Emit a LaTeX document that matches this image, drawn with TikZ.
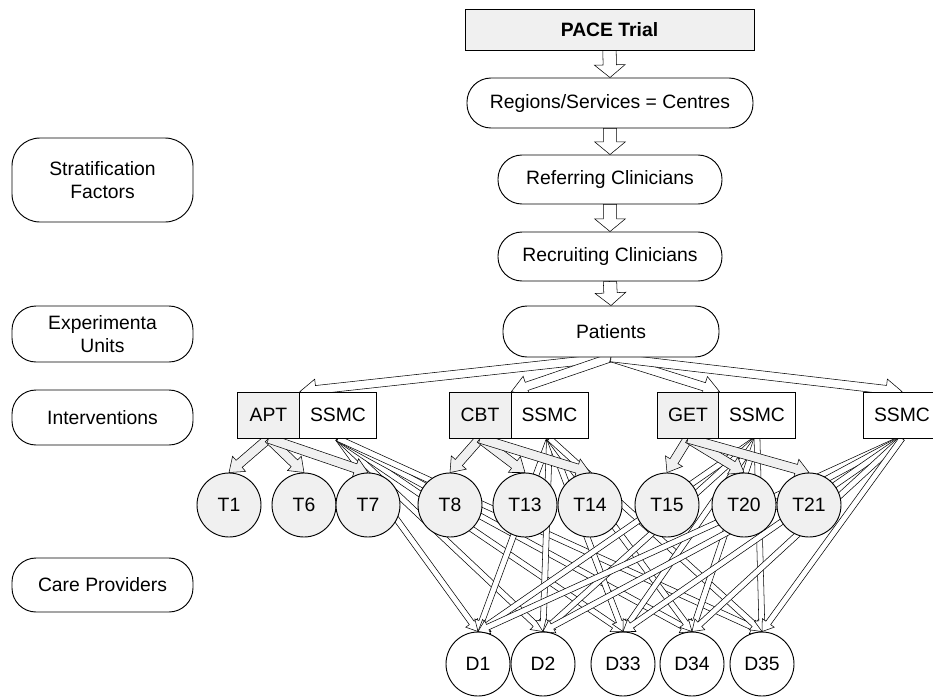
\documentclass[tikz,border=0pt]{standalone}
\usepackage{fontspec}
\setmainfont{Liberation Sans}
\usetikzlibrary{calc,backgrounds}
\definecolor{lg}{HTML}{F0F0F0}
% hollow block arrow: style, from, to, half shaft, half head, head length
\newcommand\barr[6]{%
  \coordinate (bh) at ($(#3)!#6!(#2)$);
  \draw[#1] ($(#2)!#4!90:(#3)$) -- ($(bh)!#4!90:(#3)$) -- ($(bh)!#5!90:(#3)$) -- (#3)
    -- ($(bh)!#5!-90:(#3)$) -- ($(bh)!#4!-90:(#3)$) -- ($(#2)!#4!-90:(#3)$) -- cycle;}
\begin{document}
\begin{tikzpicture}[x=0.75pt,y=-0.75pt,line width=0.7pt,
  font=\fontsize{14.5}{17.5}\selectfont,
  box/.style={draw, inner sep=0pt, align=center, fill=white},
  rbox/.style={box, rounded corners=18pt},
  tbox/.style={box, fill=lg, minimum width=46.5pt, minimum height=34.5pt},
  sbox/.style={box, minimum width=57.75pt, minimum height=34.5pt},
  tcirc/.style={circle, draw, fill=lg, minimum size=48pt, inner sep=0pt},
  dcirc/.style={circle, draw, fill=white, minimum size=48pt, inner sep=0pt},
  wA/.style={draw, fill=white, line join=miter},
  gA/.style={draw, fill=lg, line join=miter}]
\useasboundingbox (0,0) rectangle (933,697);

% main column
\node[box, fill=lg, minimum width=216.75pt, minimum height=30.75pt, font=\bfseries\fontsize{14.5}{17.5}\selectfont] (pace) at (609.5,29.5) {PACE Trial};
\node[rbox, minimum width=214.5pt, minimum height=37.5pt] (reg) at (610,103) {Regions/Services = Centres};
\node[rbox, minimum width=168pt, minimum height=36.75pt] (ref) at (610,179.5) {Referring Clinicians};
\node[rbox, minimum width=168pt, minimum height=36.75pt] (rec) at (610,256.5) {Recruiting Clinicians};
\node[rbox, minimum width=162pt, minimum height=38.25pt] (pat) at (611,331.5) {Patients};

% left labels
\node[box, rounded corners=21pt, minimum width=135.75pt, minimum height=63pt] (strat) at (102.5,180) {Stratification\\Factors};
\node[rbox, minimum width=135.75pt, minimum height=42pt] (exp) at (102.5,334) {Experimenta\\Units};
\node[rbox, minimum width=135.75pt, minimum height=41.25pt] (intv) at (102.5,417.5) {Interventions};
\node[rbox, minimum width=135.75pt, minimum height=40.5pt] (care) at (102.5,585) {Care Providers};

% interventions
\node[tbox] (apt) at (268.5,415) {APT};
\node[sbox] (s1) at (338,415) {SSMC};
\node[tbox] (cbt) at (480,415) {CBT};
\node[sbox] (s2) at (549.5,415) {SSMC};
\node[tbox] (get) at (688,415) {GET};
\node[sbox] (s3) at (757,415) {SSMC};
\node[sbox] (s4) at (902,415) {SSMC};

% therapists
\node[tcirc] (t1) at (229,505) {T1};
\node[tcirc] (t6) at (304,505) {T6};
\node[tcirc] (t7) at (368,505) {T7};
\node[tcirc] (t8) at (450,505) {T8};
\node[tcirc] (t13) at (525,505) {T13};
\node[tcirc] (t14) at (590,505) {T14};
\node[tcirc] (t15) at (667,505) {T15};
\node[tcirc] (t20) at (744,505) {T20};
\node[tcirc] (t21) at (809,505) {T21};

% doctors
\node[dcirc] (d1) at (478,664) {D1};
\node[dcirc] (d2) at (543,664) {D2};
\node[dcirc] (d33) at (623,664) {D33};
\node[dcirc] (d34) at (692,664) {D34};
\node[dcirc] (d35) at (762,664) {D35};

\begin{pgfonlayer}{background}
  \barr{wA}{pace.south}{reg.north}{5pt}{11.5pt}{9.5pt}
  \barr{wA}{reg.south}{ref.north}{5pt}{11.5pt}{9.5pt}
  \barr{wA}{ref.south}{rec.north}{5pt}{11.5pt}{9.5pt}
  \barr{wA}{rec.south}{pat.north}{5pt}{11.5pt}{9.5pt}
  \barr{wA}{pat.south}{apt.north east}{3.2pt}{8pt}{12pt}
  \barr{wA}{pat.south}{cbt.north east}{3.2pt}{8pt}{12pt}
  \barr{wA}{pat.south}{get.north east}{3.2pt}{8pt}{12pt}
  \barr{wA}{pat.south}{s4.north}{3.2pt}{8pt}{12pt}
  \foreach \s in {s1,s2,s3,s4}{
    \foreach \d in {d1,d2,d33,d34,d35}{
      \barr{wA}{\s.south}{\d.north}{2.2pt}{5.5pt}{8pt}
    }
  }
  \foreach \t in {t1,t6,t7}{\barr{gA}{apt.south}{\t.north}{3.5pt}{7.5pt}{10pt}}
  \foreach \t in {t8,t13,t14}{\barr{gA}{cbt.south}{\t.north}{3.5pt}{7.5pt}{10pt}}
  \foreach \t in {t15,t20,t21}{\barr{gA}{get.south}{\t.north}{3.5pt}{7.5pt}{10pt}}
\end{pgfonlayer}
\end{tikzpicture}
\end{document}
